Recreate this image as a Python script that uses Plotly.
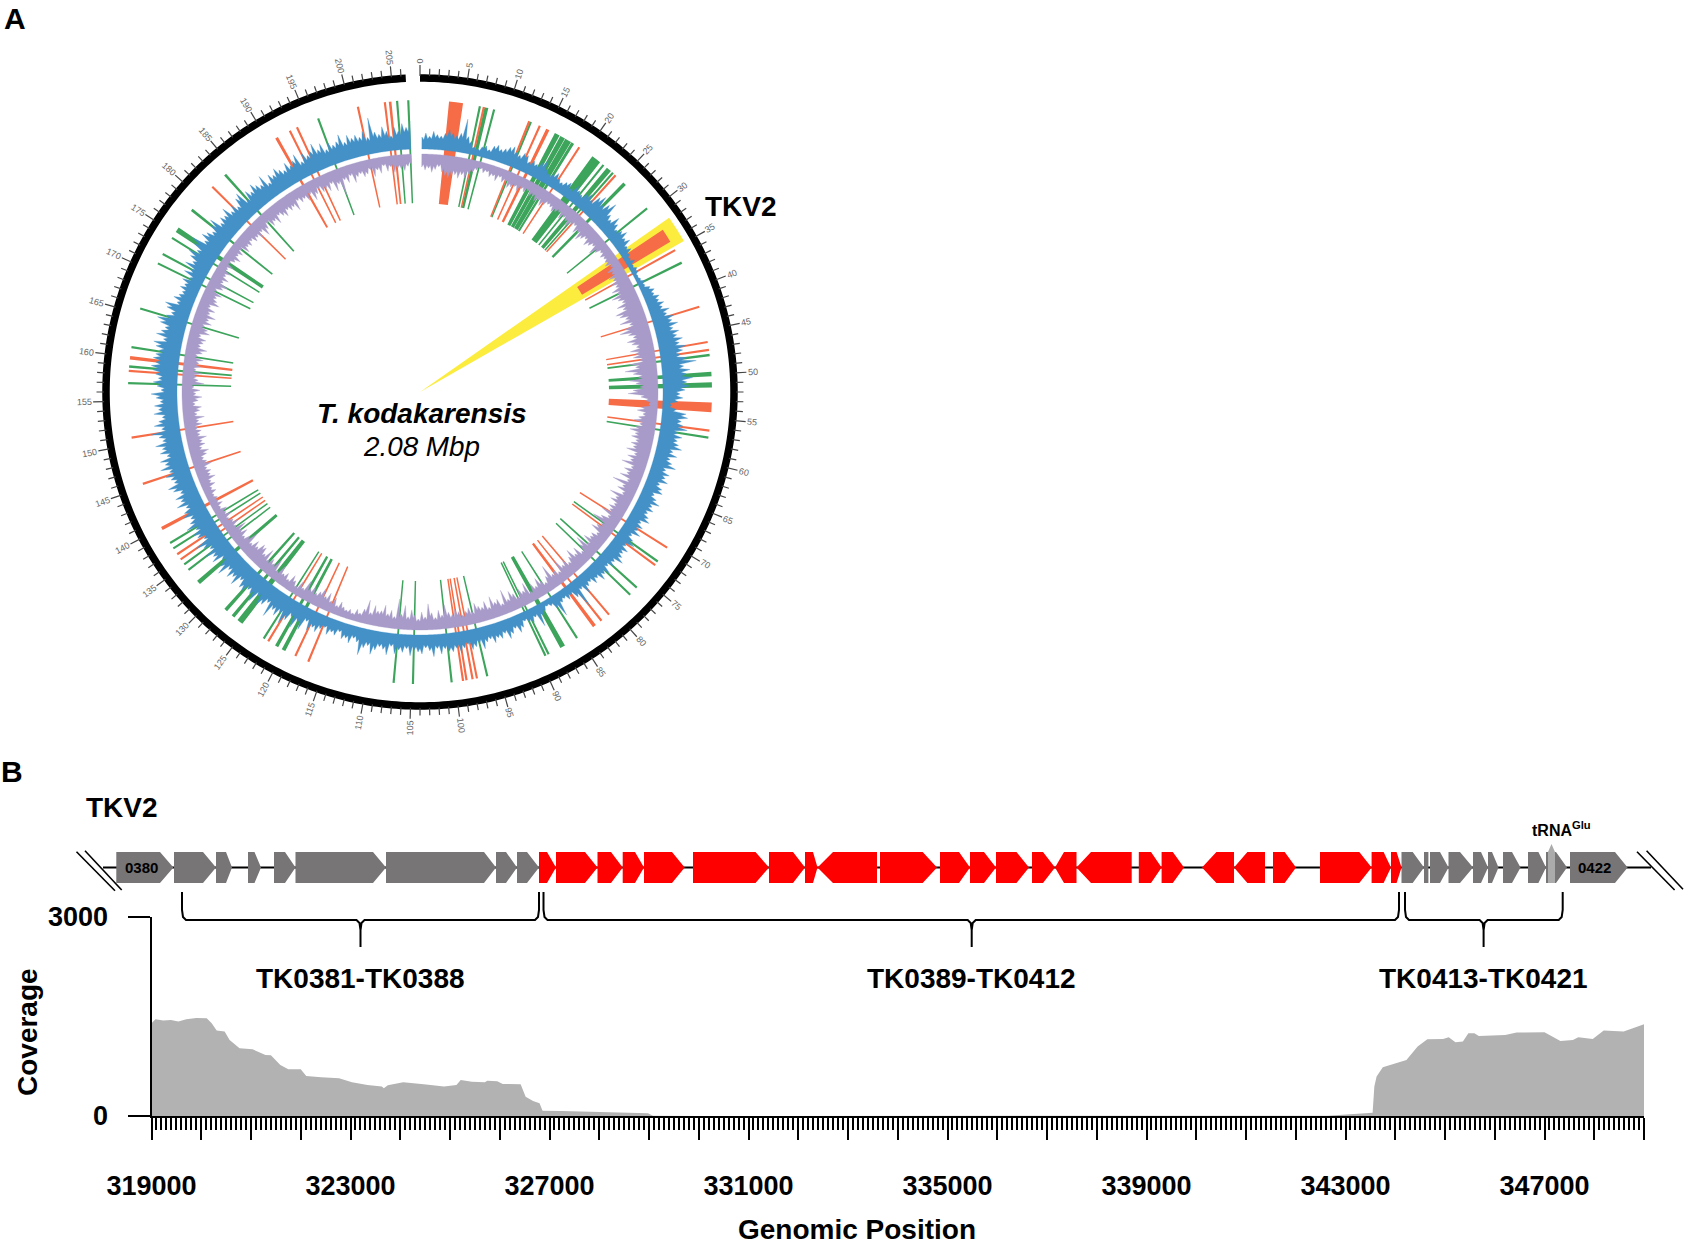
import math
import plotly.graph_objects as go

W, H = 1685, 1246
FONT = "Liberation Sans"
GENOME_KB = 208
BIN_KB = 0.5

# ---------- panel A data ----------
blue_heights = [
 12,16,13,18,15,14,17,21,18,16, 19,34,17,13,8,7,10,12,9,14,
 16,13,15,18,20,16,14,18,17,12, 15,13,17,22,14,11,13,16,12,10,
 13,15,11,17,14,12,16,19,15,22, 26,19,23,28,17,14,21,16,12,15,
 18,13,16,10,12,8,6,9,5,7, 6,4,5,8,6,10,13,11,15,13,
 17,14,20,16,22,19,24,18,23,20, 25,21,27,23,20,26,35,22,28,24,
 30,24,27,22,17,20,15,9,14,24, 26,20,22,27,18,23,19,21,25,17,
 22,16,19,24,15,20,17,21,14,18, 20,13,17,22,16,19,15,18,21,14,
 18,15,20,13,17,21,14,19,16,18, 22,15,17,13,19,16,20,14,17,12,
 14,20,12,30,16,10,13,9,11,24, 13,8,6,9,12,22,10,14,12,9,
 14,18,12,16,20,13,17,15,19,14, 16,22,15,18,20,14,17,21,16,19,
 18,15,20,14,22,16,13,19,17,15, 21,14,18,16,20,13,22,17,15,19,
 24,16,19,27,15,12,18,14,16,10, 15,13,17,11,14,19,16,21,13,24,
 18,26,16,22,28,19,24,20,30,17, 22,25,18,27,21,19,24,23,17,26,
 20,24,18,28,22,16,25,21,27,19, 24,30,18,23,26,20,28,22,19,25,
 22,18,26,20,24,17,23,27,19,21, 25,20,28,22,26,18,24,21,27,19,
 22,29,18,25,20,16,24,19,23,17, 21,26,16,20,24,19,22,25,27,23,
 26,24,21,25,28,19,27,23,20,26, 30,22,18,24,27,16,21,17,15,19,
 16,20,14,22,17,25,19,24,28,21, 27,32,20,26,23,19,24,28,18,22,
 20,26,18,22,17,24,27,16,23,19, 25,21,18,26,15,22,19,24,20,17,
 23,18,21,26,16,24,19,22,28,20, 25,17,23,19,21,27,18,24,20,22,
 19,24,17,36,21,18,25,20,15,23, 19,26,22,28,
]
purple_heights = [
 13,16,14,18,15,12,17,20,22,19, 18,21,17,20,15,12,9,7,10,8,
 12,10,14,9,13,11,16,14,12,15, 11,13,10,14,12,16,13,17,14,11,
 12,15,13,11,16,12,14,18,13,11, 17,14,20,16,13,18,15,12,19,14,
 10,13,11,12,14,10,16,13,18,15, 19,16,22,18,25,20,17,24,19,28,
 25,20,27,18,24,30,22,18,25,21, 17,24,19,22,16,27,21,32,24,19,
 28,22,18,25,30,17,12,9,16,20, 14,18,22,16,20,25,19,22,17,21,
 18,24,15,21,17,25,14,20,16,22, 13,27,15,19,12,24,16,20,14,18,
 15,22,13,19,26,14,17,21,12,16, 15,20,13,24,17,11,19,14,22,16,
 12,18,14,22,11,16,13,25,15,10, 14,19,12,17,10,21,14,18,11,16,
 20,13,24,11,17,15,22,12,19,14, 16,20,12,17,14,11,15,18,13,16,
 24,14,19,12,17,26,13,18,11,15, 20,13,24,15,30,12,18,14,22,16,
 15,20,12,24,14,9,12,7,10,8, 10,14,9,16,11,18,13,20,15,12,
 17,13,20,10,15,8,12,16,9,14, 11,18,10,20,13,16,12,22,14,19,
 20,14,18,12,22,15,11,17,13,20, 11,16,12,9,14,10,13,8,12,9,
 10,8,12,9,14,11,17,13,15,12, 18,14,12,16,19,13,17,15,20,14,
 16,13,18,15,21,14,17,19,13,16, 20,14,18,12,22,16,14,19,13,17,
 15,19,13,17,21,14,16,18,12,20, 17,13,19,15,21,14,18,12,20,16,
 14,18,11,16,20,13,17,12,15,10, 14,9,12,16,11,14,10,17,13,15,
 12,16,14,18,13,20,15,11,17,14, 19,12,15,18,13,16,14,20,11,15,
 13,17,12,20,15,11,16,14,18,12, 21,15,28,13,17,11,19,14,12,16,
 14,10,18,12,16,9,15,11,17,13, 14,16,12,10,
]
green_kb = [6.84,7.6,8.5,12.9,16.2,16.9,17.62,18.22,21.45,22.5,23.3,23.9,25.7,29.5,36.8,47.8,
            49.95,51.2,57.2,72.5,76.3,77.4,85.2,87.1,88.9,89.3,96.3,100.4,104.8,107,
            120.1,121,122.7,126,127,128.1,132.5,134.3,135.1,137.3,138,157,158.9,161.1,
            165.6,171.1,172.3,174.4,175.5,178.3,183.8,196.2,205.4,206.67]
green_w = [.25,.45,.25,.25,.6,.6,.75,.35,1.1,.25,.6,.25,.4,.25,.3,.3,
           .5,.6,.25,.25,.25,.25,.25,.6,.25,.25,.25,.25,.25,.25,
           .45,.4,.25,.7,.4,.4,.5,.25,.25,.25,.25,.25,.3,.25,
           .25,.25,.25,.25,.6,.3,.3,.25,.25,.25]
red_kb = [4.1,7.3,12.7,14,15,19.1,24.3,33.3,35.2,42.2,46.3,47.2,53.75,56.4,70.6,73,
          80.7,81.8,82.8,97.5,98,98.7,99.1,117,118.6,122.1,135.8,136.5,139.9,145.4,150.8,
          158.4,159.9,181.8,191,192.7,193.6,200.9,204,204.6]
red_w = [1.6,.25,.25,.25,.4,.25,.25,1.6,.25,.25,.25,.25,1.1,.25,.25,.25,
         .25,.25,.4,.25,.25,.25,.25,.25,.25,.25,.25,.25,.4,.25,.25,
         .25,.4,.25,.35,.25,.25,.25,.25,.3]
highlight_kb, highlight_w = [33.3], [3.0]
position_labels = list(range(0, 206, 5))

# ---------- panel B data ----------
coverage_bp = [319000,319080,319236,319390,319540,319700,319900,320110,320210,320310,320470,320570,
               320770,321030,321290,321400,321590,321750,322000,322110,322410,322770,323030,323340,
               323630,323670,323750,324060,324470,324770,324880,325130,325215,325440,325700,325750,
               325950,326060,326420,326520,326670,326800,326860,327240,327950,328670,328980,329080,
               330000,342640,343375,343545,343580,343625,343750,343945,344225,344450,344645,344960,
               345075,345210,345360,345470,345590,345680,346210,346440,347000,347320,347570,347680,
               347970,348190,348590,348875,349000]
coverage_val = [1398,1459,1439,1449,1423,1459,1479,1474,1398,1288,1273,1147,
                1021,1006,920,915,770,704,704,604,583,568,508,468,
                443,417,463,508,478,458,443,468,543,518,508,533,
                523,483,478,292,226,191,80,75,60,45,40,5,
                0,5,40,50,443,594,734,780,845,1046,1157,1162,
                1187,1112,1122,1247,1247,1207,1222,1258,1263,1132,1147,1187,
                1162,1288,1273,1348,1384]
x_major = list(range(319000, 349001, 1000))
x_labels = {319000:"319000",323000:"323000",327000:"327000",331000:"331000",
            335000:"335000",339000:"339000",343000:"343000",347000:"347000"}

grey_start = [116.3,174,216,248,274,295.5,386,496,517,1401.5,1424,1430,1448.5,1473,1488,1503,1528,1546,1570]
grey_end   = [173.4,216,232,261,295.5,386,496,517,539,1424,1428.4,1448.5,1473,1488,1498.5,1520.5,1546,1567,1627.6]
grey_head  = [160,203,226,254.5,285,373,484,506,527,1412.7,1428.4,1440,1460,1481,1492,1512,1538.4,1556,1615]
red_start = [539,556,597.5,622.7,644,693,769,805,817.5,880,940,970,996,1032,1055,1076.5,1138.8,1161.6,1202,1234,1273,1320,1371.6,1391]
red_end   = [556,597.5,622.7,644,684.7,769,805,817.5,877,937,970,996,1029,1055,1076.5,1131.7,1161.6,1184,1234,1265,1296,1371.6,1391,1401.5]
red_head  = [547,585,611,635,672,755.5,793,813,833,922.7,959,984,1016.5,1043,1064,1091,1151,1172.8,1216.4,1247.4,1284.7,1359.3,1383.6,1396.6]
red_strand = [1,1,1,1,1,1,1,1,-1,1,1,1,1,1,-1,-1,1,1,-1,-1,1,1,1,1]
trna_start, trna_end, trna_tip_top = 1548, 1555, 844
backbone_ends = [103, 1651]
brackets = [(182, 360.5, 539), (543.5, 971.7, 1399), (1405, 1483.6, 1562.7)]
bracket_labels = ["TK0381-TK0388", "TK0389-TK0412", "TK0413-TK0421"]
track_top, track_bottom = 852, 883

# ---------- helpers ----------
def deg(kb):
    return kb * 360.0 / GENOME_KB

def paper(px, py):
    return px / W, 1 - py / H

fig = go.Figure()
CX, CY, RMAX = 420, 392, 345
BLUE_BASE, PURPLE_BASE = 243, 238
FEAT_IN, FEAT_OUT = 189, 292
VALLEY = 0.78  # the histogram spikes of a bin fall back to this share of the lower neighbour

def polar_bars(theta, r, base, width, color, name):
    fig.add_trace(go.Barpolar(theta=theta, r=r, base=base, width=width, name=name,
                              marker=dict(color=color, line=dict(width=0)),
                              showlegend=False, hoverinfo="skip", subplot="polar"))

def polar_band(heights, base, sign, color, name):
    theta, edge = [], []
    for i, h in enumerate(heights):
        kb = (i + .5) * BIN_KB
        theta.append(deg(kb))
        edge.append(base + sign * h)
        if i + 1 < len(heights):
            theta.append(deg(kb + BIN_KB / 2))
            edge.append(base + sign * VALLEY * min(h, heights[i + 1]))
    fig.add_trace(go.Scatterpolar(theta=[theta[0]] + theta + theta[::-1], r=[base] + edge + [base] * len(theta),
                                  mode="lines", fill="toself", fillcolor=color, name=name,
                                  line=dict(color=color, width=0.3),
                                  showlegend=False, hoverinfo="skip", subplot="polar"))

polar_bars([deg(k) for k in highlight_kb], [304], [0], [deg(w) for w in highlight_w], "#FBEC3E", "TKV2 highlight")
polar_bars([deg(k) for k in green_kb], [FEAT_OUT-FEAT_IN]*len(green_kb), [FEAT_IN]*len(green_kb),
           [deg(w) for w in green_w], "#3DA45C", "green features")
polar_bars([deg(k) for k in red_kb], [FEAT_OUT-FEAT_IN]*len(red_kb), [FEAT_IN]*len(red_kb),
           [deg(w) for w in red_w], "#F56C47", "red features")
polar_band(blue_heights, BLUE_BASE, 1, "#4391C7", "blue track")
polar_band(purple_heights, PURPLE_BASE, -1, "#A89BC9", "purple track")

# outer ring
ring_kb = [i * 0.5 for i in range(0, 414)]
fig.add_trace(go.Scatterpolar(theta=[deg(k) for k in ring_kb], r=[314]*len(ring_kb), mode="lines",
                              line=dict(color="black", width=7.5), showlegend=False, hoverinfo="skip", subplot="polar"))
# position ticks
tick_t, tick_r = [], []
for k in range(0, 207):
    tick_t += [deg(k), deg(k), None]
    tick_r += [316, 327 if k % 5 == 0 else 323.5, None]
fig.add_trace(go.Scatterpolar(theta=tick_t, r=tick_r, mode="lines", line=dict(color="#444444", width=1.2),
                              showlegend=False, hoverinfo="skip", subplot="polar", connectgaps=False))

# ---------- panel B traces ----------
fig.add_trace(go.Scatter(x=coverage_bp, y=coverage_val, mode="lines", fill="tozeroy", fillcolor="#B2B2B2",
                         line=dict(width=0, color="#B2B2B2"), xaxis="x", yaxis="y", showlegend=False, hoverinfo="skip"))

def gene_path(starts, ends, heads, strands=None):
    mid = (track_top + track_bottom) / 2
    xs, ys = [], []
    for i, (s, e, h) in enumerate(zip(starts, ends, heads)):
        st = 1 if strands is None else strands[i]
        if st > 0:
            xs += [s, h, e, h, s, s, None]
            ys += [track_top, track_top, mid, track_bottom, track_bottom, track_top, None]
        else:
            xs += [s, h, e, e, h, s, None]
            ys += [mid, track_top, track_top, track_bottom, track_bottom, mid, None]
    return xs, ys

mid_y = (track_top + track_bottom) / 2
fig.add_trace(go.Scatter(x=backbone_ends, y=[mid_y, mid_y], mode="lines", line=dict(color="black", width=1.8),
                         xaxis="x2", yaxis="y2", showlegend=False, hoverinfo="skip"))
gx, gy = gene_path(grey_start, grey_end, grey_head)
fig.add_trace(go.Scatter(x=gx, y=gy, mode="none", fill="toself", fillcolor="#777575",
                         xaxis="x2", yaxis="y2", showlegend=False, hoverinfo="skip"))
rx, ry = gene_path(red_start, red_end, red_head, red_strand)
fig.add_trace(go.Scatter(x=rx, y=ry, mode="none", fill="toself", fillcolor="#FF0000",
                         xaxis="x2", yaxis="y2", showlegend=False, hoverinfo="skip"))
fig.add_trace(go.Scatter(x=[trna_start, (trna_start+trna_end)/2, trna_end, trna_end, trna_start, trna_start],
                         y=[track_top, trna_tip_top, track_top, track_bottom, track_bottom, track_top],
                         mode="none", fill="toself", fillcolor="#ABABAB",
                         xaxis="x2", yaxis="y2", showlegend=False, hoverinfo="skip"))
# break marks
for xa, ya, xb, yb in [(76.5, 851.7, 115, 890.7), (85, 850.7, 121.7, 890),
                       (1637, 851.7, 1674.6, 890), (1646.6, 850.7, 1683, 889.3)]:
    fig.add_trace(go.Scatter(x=[xa, xb], y=[ya, yb], mode="lines", line=dict(color="black", width=1.6),
                             xaxis="x2", yaxis="y2", showlegend=False, hoverinfo="skip"))
# brackets
for left, centre, right in brackets:
    bx = [left, left, left+1, left+4, centre-4, centre-1, centre, centre, centre, centre+1, centre+4, right-4, right-1, right, right]
    by = [892, 910, 917, 920, 920, 923, 930, 947, 930, 923, 920, 920, 917, 910, 892]
    fig.add_trace(go.Scatter(x=bx, y=by, mode="lines", line=dict(color="black", width=2),
                             xaxis="x2", yaxis="y2", showlegend=False, hoverinfo="skip"))

# ---------- annotations ----------
ann = []
def text(px, py, s, size, color="black", angle=0, anchor="center"):
    x, y = paper(px, py)
    ann.append(dict(x=x, y=y, xref="paper", yref="paper", text=s, showarrow=False, xanchor=anchor, yanchor="middle",
                    textangle=angle, font=dict(family=FONT, size=size, color=color)))

for k in position_labels:
    t = deg(k)
    label = str(k)
    r = 327 + 2.6 * len(label) + 1
    px = CX + r * math.sin(math.radians(t))
    py = CY - r * math.cos(math.radians(t))
    angle = t - 90 if t <= 180 else t + 90 - 360
    text(px, py, label, 9, "#666666", angle)

text(15, 18, "<b>A</b>", 30)
text(12, 771, "<b>B</b>", 30)
text(422, 413, "<b><i>T. kodakarensis</i></b>", 28)
text(422, 447, "<i>2.08 Mbp</i>", 27.8)
text(741, 206, "<b>TKV2</b>", 28)
text(121.5, 807, "<b>TKV2</b>", 28)
text(141.6, 867.5, "<b>0380</b>", 15)
text(1594, 867.5, "<b>0422</b>", 15)
text(1561.7, 829, "<b>tRNA<sup>Glu</sup></b>", 16)
for (l, c, r_), lab in zip(brackets, bracket_labels):
    text(c, 978, f"<b>{lab}</b>", 28)
text(27, 1032, "<b>Coverage</b>", 28, angle=-90)
text(857, 1229, "<b>Genomic Position</b>", 28)

fig.update_layout(
    width=W, height=H, margin=dict(l=0, r=0, t=0, b=0, pad=0, autoexpand=False),
    paper_bgcolor="white", plot_bgcolor="rgba(0,0,0,0)", showlegend=False,
    font=dict(family=FONT, color="black"),
    annotations=ann,
    polar=dict(
        domain=dict(x=[(CX-RMAX)/W, (CX+RMAX)/W], y=[1-(CY+RMAX)/H, 1-(CY-RMAX)/H]),
        bgcolor="rgba(0,0,0,0)", barmode="overlay",
        radialaxis=dict(visible=False, range=[0, RMAX]),
        angularaxis=dict(visible=False, rotation=90, direction="clockwise", thetaunit="degrees"),
    ),
    xaxis=dict(domain=[151.5/W, 1644/W], range=[319000, 349000], anchor="y", showgrid=False, zeroline=False,
               showline=True, linecolor="black", linewidth=2,
               tickmode="array", tickvals=x_major, ticktext=[x_labels.get(v, "") for v in x_major],
               ticks="outside", ticklen=22, tickwidth=2, tickcolor="black", ticklabelstandoff=23,
               tickfont=dict(family=FONT, size=27, weight="bold", color="black"),
               minor=dict(tickmode="linear", tick0=319000, dtick=100, ticks="outside", ticklen=12,
                          tickwidth=1.8, tickcolor="black", showgrid=False)),
    yaxis=dict(domain=[1-1116/H, 1-917/H], range=[0, 3000], anchor="x", showgrid=False, zeroline=False,
               showline=True, linecolor="black", linewidth=2,
               tickmode="array", tickvals=[0, 3000], ticktext=["0", "3000"],
               ticks="outside", ticklen=22, tickwidth=2, tickcolor="black", ticklabelstandoff=14,
               tickfont=dict(family=FONT, size=27, weight="bold", color="black")),
    xaxis2=dict(domain=[0, 1], range=[0, W], anchor="y2", visible=False),
    yaxis2=dict(domain=[1-955/H, 1-840/H], range=[955, 840], anchor="x2", visible=False),
)

fig.write_html("out.html", config={"displayModeBar": False},
               post_script="document.body.style.margin='0';document.body.style.overflow='hidden';")
